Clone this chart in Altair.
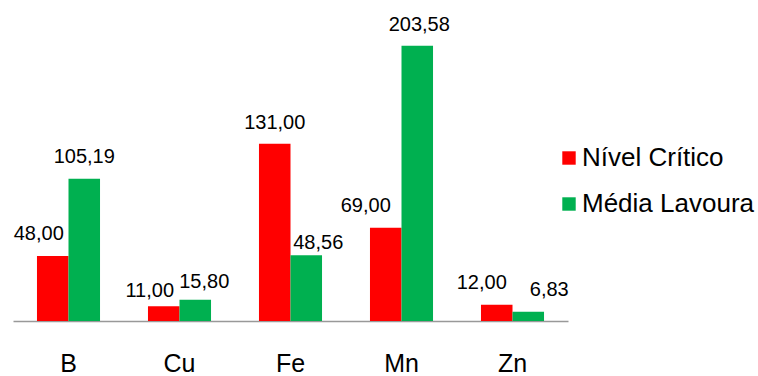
import altair as alt
import pandas as pd

elements = ["B", "Cu", "Fe", "Mn", "Zn"]
series = ["Nível Crítico", "Média Lavoura"]
nivel_critico = [48.00, 11.00, 131.00, 69.00, 12.00]
media_lavoura = [105.19, 15.80, 48.56, 203.58, 6.83]
colors = ["#FF0000", "#00B050"]

# label nudges (dx, gap above bar) as placed in the reference
label_dx = {"Nível Crítico": [-14, -14, 0, -20, -15], "Média Lavoura": [0, 9, 12, 2, 21]}
label_gap = {"Nível Crítico": [16, 9, 15, 16, 16], "Média Lavoura": [16, 12, 6, 15, 16]}

rows = []
for s, vals in zip(series, [nivel_critico, media_lavoura]):
    for i, (e, v) in enumerate(zip(elements, vals)):
        rows.append({"element": e, "serie": s, "value": v,
                     "label": f"{v:.2f}".replace(".", ","), "idx": i})
df = pd.DataFrame(rows)

FONT = "Arial, Liberation Sans, sans-serif"

x_enc = alt.X("element:N", sort=elements,
              scale=alt.Scale(paddingInner=0.432, paddingOuter=0.216),
              axis=alt.Axis(title=None, labelAngle=0, ticks=False, tickSize=0,
                            domainColor="#999999", domainWidth=1.5,
                            labelFont=FONT, labelFontSize=25, labelColor="#000000",
                            labelBaseline="alphabetic", labelPadding=50, grid=False))
xo_enc = alt.XOffset("serie:N", sort=series, scale=alt.Scale(paddingInner=0, paddingOuter=0))
y_enc = alt.Y("value:Q", scale=alt.Scale(domain=[0, 230], nice=False), axis=None)

base = alt.Chart(df)

bars = base.mark_bar().encode(
    x=x_enc,
    xOffset=xo_enc,
    y=y_enc,
    color=alt.Color("serie:N", sort=series,
                    scale=alt.Scale(domain=series, range=colors),
                    legend=alt.Legend(title=None, orient="none", legendX=543, legendY=135,
                                      symbolType="square", symbolSize=180,
                                      symbolStrokeWidth=0, labelLimit=0,
                                      labelFont=FONT, labelFontSize=26, labelColor="#000000",
                                      labelOffset=0, rowPadding=20, padding=0)),
)

layers = [bars]
for s in series:
    for i in range(len(elements)):
        t = base.transform_filter(
            (alt.datum.serie == s) & (alt.datum.idx == i)
        ).mark_text(
            dx=label_dx[s][i], dy=-label_gap[s][i], baseline="alphabetic", align="center",
            font=FONT, fontSize=20, color="#000000"
        ).encode(
            x=alt.X("element:N", sort=elements),
            xOffset=alt.XOffset("serie:N", sort=series),
            y=alt.Y("value:Q"),
            text="label:N",
        )
        layers.append(t)

chart = alt.layer(*layers).properties(
    width=555, height=311,
    autosize=alt.AutoSizeParams(type="none"),
    padding={"left": 13, "top": 10, "right": 190, "bottom": 55},
    background="#FFFFFF",
).configure_view(stroke=None)

chart.save("out.html", embed_options={"renderer": "svg", "actions": False})
